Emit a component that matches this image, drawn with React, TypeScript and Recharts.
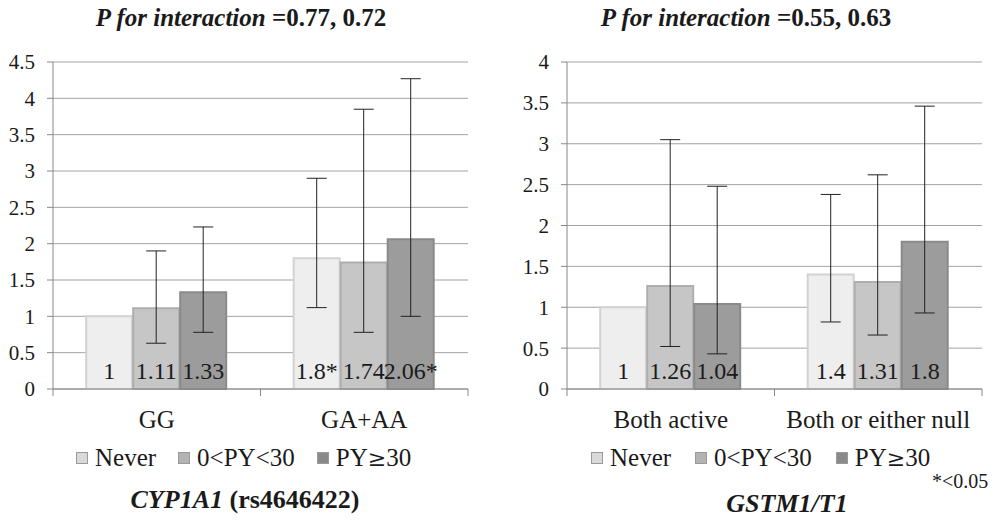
import { Bar, BarChart, CartesianGrid, ErrorBar, LabelList, XAxis, YAxis } from 'recharts'

const SERIF = 'Liberation Serif'

const seriesNames = ['Never', '0<PY<30', 'PY≥30']
const seriesFill = ['#eeeeee', '#c6c6c6', '#9c9c9c']
const seriesEdge = ['#d2d2d2', '#aeaeae', '#8a8a8a']
const legendSwatch = ['#d9d9d9', '#b3b3b3', '#8a8a8a']

// CYP1A1 (rs4646422)
const cypCategories = ['GG', 'GA+AA']
const cypNever = [1, 1.8]
const cypLight = [1.11, 1.74]
const cypHeavy = [1.33, 2.06]
const cypNeverCI: (number[] | null)[] = [null, [1.12, 2.9]]
const cypLightCI: (number[] | null)[] = [[0.63, 1.9], [0.78, 3.85]]
const cypHeavyCI: (number[] | null)[] = [[0.78, 2.23], [1.0, 4.27]]
const cypLabels = [
  ['1', '1.8*'],
  ['1.11', '1.74'],
  ['1.33', '2.06*'],
]
const cypTicks = [0, 0.5, 1, 1.5, 2, 2.5, 3, 3.5, 4, 4.5]

// GSTM1/T1
const gstCategories = ['Both active', 'Both or either null']
const gstNever = [1, 1.4]
const gstLight = [1.26, 1.31]
const gstHeavy = [1.04, 1.8]
const gstNeverCI: (number[] | null)[] = [null, [0.82, 2.38]]
const gstLightCI: (number[] | null)[] = [[0.52, 3.05], [0.66, 2.62]]
const gstHeavyCI: (number[] | null)[] = [[0.43, 2.48], [0.93, 3.46]]
const gstLabels = [
  ['1', '1.4'],
  ['1.26', '1.31'],
  ['1.04', '1.8'],
]
const gstTicks = [0, 0.5, 1, 1.5, 2, 2.5, 3, 3.5, 4]

const keys = ['never', 'light', 'heavy']

function toErr(v: number, ci: number[] | null) {
  return ci ? [v - ci[0], ci[1] - v] : undefined
}

function buildRows(
  cats: string[],
  vals: number[][],
  cis: (number[] | null)[][],
  labels: string[][],
) {
  return cats.map((name, i) => {
    const row: Record<string, unknown> = { name }
    keys.forEach((k, s) => {
      row[k] = vals[s][i]
      row[k + 'Err'] = toErr(vals[s][i], cis[s][i])
      row[k + 'Lbl'] = labels[s][i]
    })
    return row
  })
}

const cypRows = buildRows(
  cypCategories,
  [cypNever, cypLight, cypHeavy],
  [cypNeverCI, cypLightCI, cypHeavyCI],
  cypLabels,
)
const gstRows = buildRows(
  gstCategories,
  [gstNever, gstLight, gstHeavy],
  [gstNeverCI, gstLightCI, gstHeavyCI],
  gstLabels,
)

const TOP = 62
const PLOT_H = 327
const AXIS_Y = TOP + PLOT_H
const PLOT_W = 415

function CatTick(props: any) {
  const { x, payload, index, visibleTicksCount } = props
  const band = PLOT_W / 2
  const last = index === (visibleTicksCount ?? 2) - 1
  return (
    <g>
      <line x1={x - band / 2} x2={x - band / 2} y1={AXIS_Y} y2={AXIS_Y + 7} stroke="#888" />
      {last && (
        <line x1={x + band / 2} x2={x + band / 2} y1={AXIS_Y} y2={AXIS_Y + 7} stroke="#888" />
      )}
      <text
        x={x}
        y={AXIS_Y + 39}
        textAnchor="middle"
        fontFamily={SERIF}
        fontSize={25}
        fill="#1a1a1a"
      >
        {payload.value}
      </text>
    </g>
  )
}

function BarValue(props: any) {
  const { x, y, width, height, value } = props
  return (
    <text
      x={x + width / 2}
      y={y + height - 10}
      textAnchor="middle"
      fontFamily={SERIF}
      fontSize={24}
      fill="#1a1a1a"
    >
      {value}
    </text>
  )
}

function Panel({
  rows,
  ticks,
  yMax,
  yWidth,
  width,
}: {
  rows: Record<string, unknown>[]
  ticks: number[]
  yMax: number
  yWidth: number
  width: number
}) {
  return (
    <BarChart
      width={width}
      height={TOP + PLOT_H + 50}
      data={rows}
      margin={{ top: TOP, right: width - yWidth - PLOT_W, left: 0, bottom: 0 }}
      barCategoryGap="16%"
      barGap={1}
    >
      <CartesianGrid vertical={false} stroke="#a3a3a3" />
      <XAxis
        dataKey="name"
        height={50}
        axisLine={{ stroke: '#888' }}
        tickLine={false}
        tick={<CatTick />}
        interval={0}
      />
      <YAxis
        width={yWidth}
        domain={[0, yMax]}
        ticks={ticks}
        interval={0}
        axisLine={{ stroke: '#888' }}
        tickLine={{ stroke: '#888' }}
        tickSize={6}
        tickMargin={12}
        tick={{ fontFamily: SERIF, fontSize: 21, fill: '#1a1a1a' }}
      />
      {keys.map((k, s) => (
        <Bar
          key={k}
          dataKey={k}
          name={seriesNames[s]}
          fill={seriesFill[s]}
          stroke={seriesEdge[s]}
          strokeWidth={2}
          isAnimationActive={false}
        >
          <ErrorBar dataKey={k + 'Err'} width={10} stroke="#222" strokeWidth={1} />
          <LabelList dataKey={k + 'Lbl'} content={<BarValue />} />
        </Bar>
      ))}
    </BarChart>
  )
}

function LegendRow({ left, gaps }: { left: number; gaps: number[] }) {
  return (
    <div
      style={{
        position: 'absolute',
        left,
        top: 444,
        display: 'flex',
        alignItems: 'center',
        fontFamily: SERIF,
        fontSize: 25,
        color: '#1a1a1a',
        whiteSpace: 'nowrap',
      }}
    >
      {seriesNames.map((n, i) => (
        <span key={n} style={{ display: 'flex', alignItems: 'center', marginRight: gaps[i] }}>
          <span
            style={{
              width: 10,
              height: 10,
              background: legendSwatch[i],
              border: '1px solid #9a9a9a',
              marginRight: 7,
              display: 'inline-block',
            }}
          />
          {n.includes('≥') ? (
            <>
              {n.split('≥')[0]}
              <span style={{ fontFamily: 'DejaVu Serif', fontSize: 22 }}>≥</span>
              {n.split('≥')[1]}
            </>
          ) : (
            n
          )}
        </span>
      ))}
    </div>
  )
}

export default function App() {
  const titleStyle = {
    position: 'absolute' as const,
    top: 4,
    fontFamily: SERIF,
    fontSize: 25,
    fontWeight: 'bold' as const,
    color: '#1a1a1a',
    whiteSpace: 'nowrap' as const,
    transform: 'translateX(-50%)',
  }
  return (
    <div
      style={{
        position: 'absolute',
        left: 0,
        top: 0,
        width: 997,
        height: 527,
        background: '#fff',
        fontFamily: SERIF,
      }}
    >
      <div style={{ ...titleStyle, left: 241 }}>
        <i>P for interaction</i> =0.77, 0.72
      </div>
      <div style={{ ...titleStyle, left: 746 }}>
        <i>P for interaction</i> =0.55, 0.63
      </div>

      <div style={{ position: 'absolute', left: 0, top: 0 }}>
        <Panel rows={cypRows} ticks={cypTicks} yMax={4.5} yWidth={53} width={480} />
      </div>
      <div style={{ position: 'absolute', left: 500, top: 0 }}>
        <Panel rows={gstRows} ticks={gstTicks} yMax={4} yWidth={67} width={497} />
      </div>

      <LegendRow left={76} gaps={[22, 22, 0]} />
      <LegendRow left={591} gaps={[24, 24, 0]} />

      <div
        style={{
          position: 'absolute',
          left: 932,
          top: 470,
          fontFamily: SERIF,
          fontSize: 20,
          color: '#1a1a1a',
        }}
      >
        *&lt;0.05
      </div>

      <div style={{ ...titleStyle, top: 485, left: 245, fontSize: 26 }}>
        <i>CYP1A1</i> (rs4646422)
      </div>
      <div style={{ ...titleStyle, top: 489, left: 787, fontSize: 26 }}>
        <i>GSTM1/T1</i>
      </div>
    </div>
  )
}
